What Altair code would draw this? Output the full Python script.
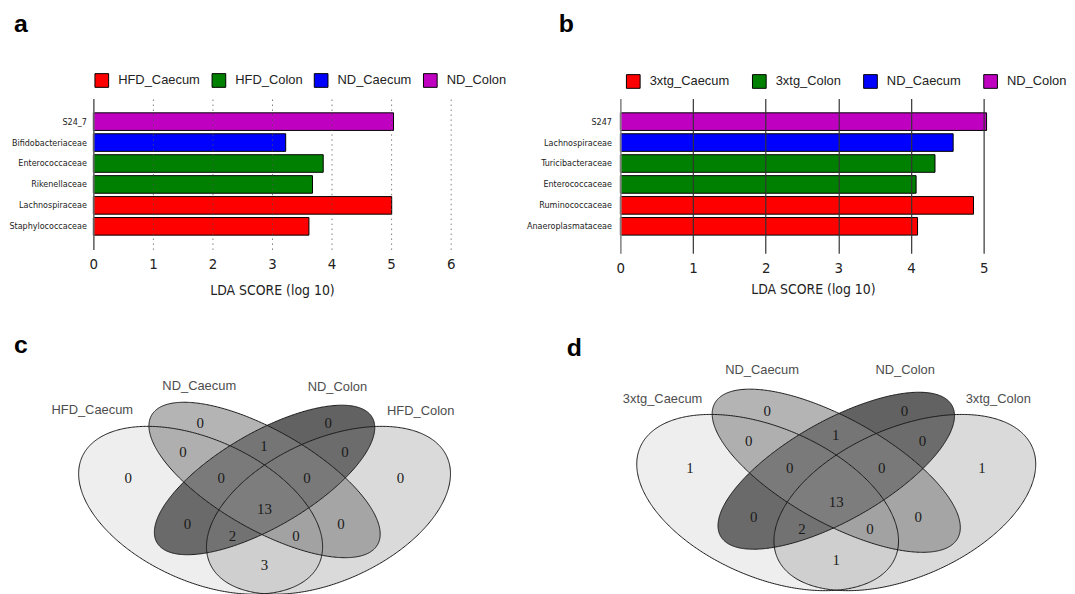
import altair as alt
import numpy as np
import pandas as pd

# ------------------------------------------------------------------ data
# panel a (LEfSe, HFD vs ND)
a_families = ["S24_7", "Bifidobacteriaceae", "Enterococcaceae", "Rikenellaceae",
              "Lachnospiraceae", "Staphylococcaceae"]
a_lda = [5.04, 3.23, 3.86, 3.68, 5.01, 3.62]
a_class = ["ND_Colon", "ND_Caecum", "HFD_Colon", "HFD_Colon", "HFD_Caecum", "HFD_Caecum"]
a_classes = ["HFD_Caecum", "HFD_Colon", "ND_Caecum", "ND_Colon"]
a_ticks = [0, 1, 2, 3, 4, 5, 6]

# panel b (LEfSe, 3xtg vs ND)
b_families = ["S247", "Lachnospiraceae", "Turicibacteraceae", "Enterococcaceae",
              "Ruminococcaceae", "Anaeroplasmataceae"]
b_lda = [5.04, 4.58, 4.33, 4.07, 4.86, 4.09]
b_class = ["ND_Colon", "ND_Caecum", "3xtg_Colon", "3xtg_Colon", "3xtg_Caecum", "3xtg_Caecum"]
b_classes = ["3xtg_Caecum", "3xtg_Colon", "ND_Caecum", "ND_Colon"]
b_ticks = [0, 1, 2, 3, 4, 5]

class_colors = ["#ff0000", "#008000", "#0000ff", "#c000c0"]
x_title = "LDA SCORE (log 10)"

# panels c / d (4-set Venn counts)
c_sets = ["HFD_Caecum", "ND_Caecum", "ND_Colon", "HFD_Colon"]
d_sets = ["3xtg_Caecum", "ND_Caecum", "ND_Colon", "3xtg_Colon"]
regions = ["1000", "0100", "0010", "0001", "1100", "0110", "0011", "1110",
           "0111", "1111", "1010", "0101", "1011", "1101", "1001"]
c_counts = [0, 0, 0, 0, 0, 1, 0, 0, 0, 13, 0, 0, 2, 0, 3]
d_counts = [1, 0, 0, 1, 0, 1, 0, 0, 0, 13, 0, 0, 2, 0, 1]

# ------------------------------------------------------------------ layout / style
NARROW = "Liberation Sans Narrow, DejaVu Sans Condensed, Liberation Sans, sans-serif"
SANS = "Liberation Sans, Arial, sans-serif"
SERIF = "Liberation Serif, Times New Roman, serif"

# Venn template (units; x right, y down): centre x, centre y, half-width, half-height, tilt
ELLIPSES = [
    (-0.553, 0.39, 1.055, 1.08, 0.435),
    (0.0, 0.0, 1.0, 1.0, 0.696),
    (0.0, 0.0, 0.953, 0.962, -0.70),
    (0.553, 0.39, 1.055, 1.08, -0.435),
]
FILLS = [("#989898", 0.16), ("#828282", 0.6), ("#626262", 1.0), ("#848484", 0.3)]
DRAW_ORDER = [2, 1, 3, 0]
REGION_XY = {
    "1000": (-1.18, -0.03), "0100": (-0.556, -0.737), "0010": (0.55, -0.737),
    "0001": (1.175, -0.03), "1100": (-0.706, -0.363), "0110": (-0.005, -0.432),
    "0011": (0.695, -0.363), "1110": (-0.375, -0.03), "0111": (0.367, -0.03),
    "1111": (0.0, 0.38), "1010": (-0.666, 0.572), "0101": (0.66, 0.572),
    "1011": (-0.277, 0.72), "1101": (0.272, 0.72), "1001": (0.0, 1.09),
}
C_LABEL_XY = [(-1.49, -0.90), (-0.565, -1.21), (0.63, -1.195), (1.35, -0.89)]
D_LABEL_XY = [(-1.40, -0.876), (-0.598, -1.24), (0.556, -1.233), (1.306, -0.876)]


def bar_panel(fams, vals, cls, classes, xmax, ticks, width, height, band, letter, letter_xy,
              grid_kw, dom_color, col_pad, legend_xy, lab_pad, title_pad):
    df = pd.DataFrame({"family": fams, "lda": vals, "cls": cls})
    y = alt.Y("family:N", sort=fams, title=None,
              scale=alt.Scale(paddingInner=0.16, paddingOuter=band[0], align=band[1]),
              axis=alt.Axis(ticks=False, labelFont=NARROW, labelFontSize=9,
                            labelColor="#222", labelPadding=lab_pad, domainColor=dom_color,
                            domainWidth=1.6, zindex=1))
    grid_op = grid_kw.pop("op")
    x = alt.X("lda:Q", title=x_title,
              scale=alt.Scale(domain=[0, xmax], nice=False, zero=True),
              axis=alt.Axis(values=ticks, domain=False, ticks=False, grid=True, zindex=1,
                            format="d", labelFlush=False, labelFont=NARROW, labelFontSize=15,
                            labelColor="#222", labelPadding=7, titleFont=NARROW,
                            titleFontSize=14, titleFontWeight="normal", titleColor="#222",
                            titlePadding=title_pad,
                            gridOpacity={"condition": {"test": "datum.value === 0", "value": 0},
                                         "value": grid_op},
                            **grid_kw))
    color = alt.Color("cls:N", scale=alt.Scale(domain=classes, range=class_colors),
                      legend=alt.Legend(orient="none", legendX=legend_xy[0], legendY=legend_xy[1],
                                        direction="horizontal", title=None,
                                        symbolType="square", symbolSize=190,
                                        symbolStrokeColor="black", symbolStrokeWidth=1,
                                        symbolOpacity=1,
                                        labelFont=SANS, labelFontSize=13, labelColor="#222",
                                        labelOffset=9, columnPadding=col_pad, padding=0))
    bars = alt.Chart(df).mark_bar(stroke="black", strokeWidth=1, opacity=1).encode(
        x=x, y=y, color=color)
    lt = alt.Chart(pd.DataFrame({"t": [letter]})).mark_text(
        font=SANS, fontSize=25, fontWeight="bold", align="left", baseline="top",
        color="black").encode(x=alt.value(letter_xy[0]), y=alt.value(letter_xy[1]), text="t:N")
    return alt.layer(bars, lt).properties(width=width, height=height)


def venn_panel(sets, counts, label_xy, letter, cx_px, cy_px, sx, sy, left_px, top_px, w, h,
               letter_xy):
    xs = alt.Scale(domain=[(left_px - cx_px) / sx, (left_px + w - cx_px) / sx], nice=False, zero=False)
    ys = alt.Scale(domain=[(top_px - cy_px) / sy, (top_px + h - cy_px) / sy], nice=False,
                   zero=False, reverse=True)
    layers = []
    for i in DRAW_ORDER:
        ex, ey, W, H, rho = ELLIPSES[i]
        phi = np.arccos(rho)
        t = np.linspace(0, np.pi, 241)
        df = pd.DataFrame({"u": ex + W * np.cos(t), "v1": ey + H * np.cos(t - phi),
                           "v2": ey + H * np.cos(t + phi)})
        col, op = FILLS[i]
        layers.append(alt.Chart(df).mark_area(color=col, opacity=op).encode(
            x=alt.X("u:Q", scale=xs, axis=None), y=alt.Y("v1:Q", scale=ys, axis=None), y2="v2:Q"))
    for i in range(4):
        ex, ey, W, H, rho = ELLIPSES[i]
        phi = np.arccos(rho)
        t = np.linspace(0, 2 * np.pi, 481)
        df = pd.DataFrame({"u": ex + W * np.cos(t), "v": ey + H * np.cos(t - phi),
                           "k": np.arange(len(t))})
        layers.append(alt.Chart(df).mark_line(color="#1a1a1a", strokeWidth=1).encode(
            x=alt.X("u:Q", scale=xs, axis=None), y=alt.Y("v:Q", scale=ys, axis=None),
            order="k:Q"))
    cnt = pd.DataFrame({"region": regions, "n": [str(c) for c in counts],
                        "u": [REGION_XY[r][0] for r in regions],
                        "v": [REGION_XY[r][1] for r in regions]})
    layers.append(alt.Chart(cnt).mark_text(font=SERIF, fontSize=15, color="#1a1a1a",
                                           baseline="middle", align="center").encode(
        x=alt.X("u:Q", scale=xs, axis=None), y=alt.Y("v:Q", scale=ys, axis=None), text="n:N"))
    lab = pd.DataFrame({"name": sets, "u": [p[0] for p in label_xy],
                        "v": [p[1] for p in label_xy]})
    layers.append(alt.Chart(lab).mark_text(font=SANS, fontSize=13, color="#4d4d4d",
                                           baseline="middle", align="center").encode(
        x=alt.X("u:Q", scale=xs, axis=None), y=alt.Y("v:Q", scale=ys, axis=None), text="name:N"))
    layers.append(alt.Chart(pd.DataFrame({"t": [letter]})).mark_text(
        font=SANS, fontSize=25, fontWeight="bold", align="left", baseline="top",
        color="black").encode(x=alt.value(letter_xy[0]), y=alt.value(letter_xy[1]), text="t:N"))
    return alt.layer(*layers).properties(width=w, height=h)


A = bar_panel(a_families, a_lda, a_class, a_classes, 6, a_ticks, 360, 152, (0.682, 0.5),
              "a", (-80, -87),
              dict(gridColor="#555", gridDash=[1.5, 3.5], gridWidth=1, op=0.75), "#666", 9,
              (1, -26), 7, 12)
B = bar_panel(b_families, b_lda, b_class, b_classes, 5.3, b_ticks, 388, 156, (0.777, 0.439),
              "b", (-62, -87),
              dict(gridColor="#333", gridWidth=1.2, op=1), "#888", 20, (5.5, -25), 9, 7)
C = venn_panel(c_sets, c_counts, C_LABEL_XY, "c", 265.5, 481.3, 116.5, 78.3, 93, 330, 360, 264,
               (-80, 3.5))
D = venn_panel(d_sets, d_counts, D_LABEL_XY, "d", 841.5, 472.0, 125.0, 82.2, 624, 330, 400, 264,
               (-54, 6))

chart = alt.concat(A, B, C, D, columns=2, spacing={"row": 77, "column": 171},
                   bounds="flush").resolve_scale(color="independent").properties(
    padding={"left": 0, "top": 2, "right": 0, "bottom": 0}
).configure_view(stroke=None)

chart.save("out.html", embed_options={"renderer": "svg", "actions": False})
